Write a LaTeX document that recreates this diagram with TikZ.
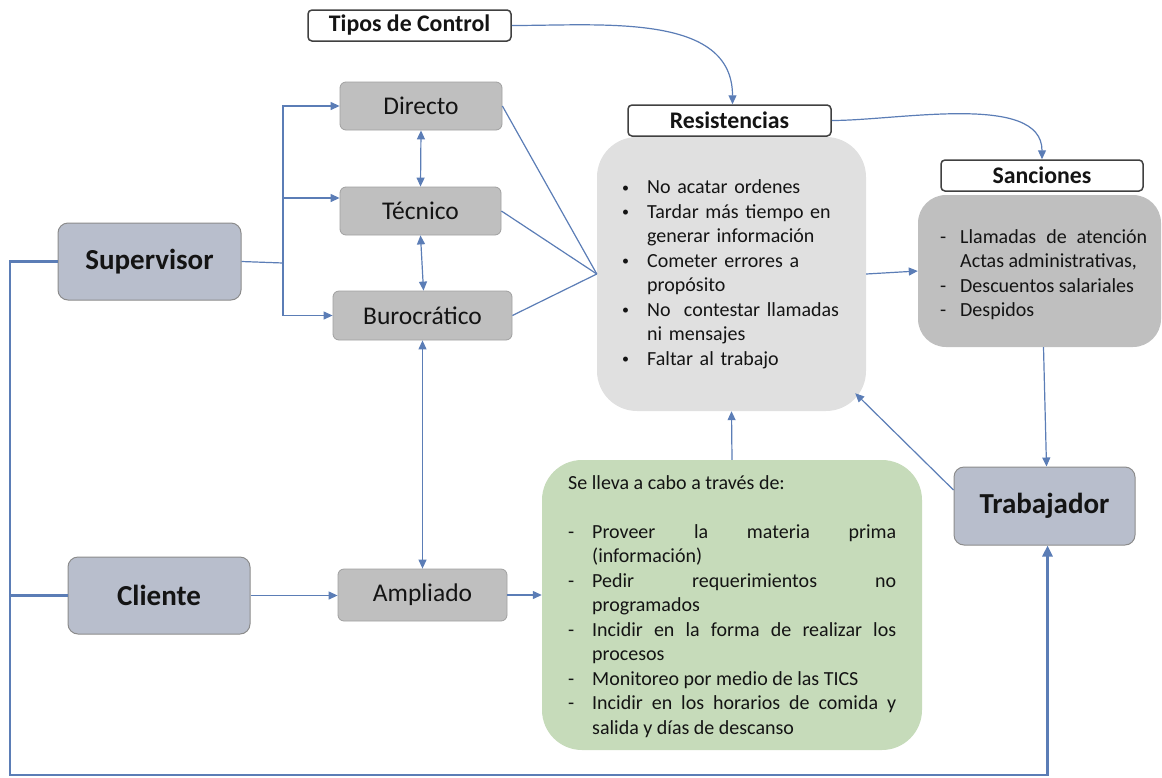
\documentclass[tikz,border=0pt]{standalone}
\usepackage{fontspec}
\setmainfont{Carlito}
\usetikzlibrary{arrows.meta,calc}

\definecolor{linec}{RGB}{91,125,182}
\definecolor{boxgray}{RGB}{191,191,191}
\definecolor{boxedge}{RGB}{160,160,160}
\definecolor{bluegray}{RGB}{184,190,204}
\definecolor{bluegrayedge}{RGB}{140,140,140}
\definecolor{lightgray}{RGB}{224,224,224}
\definecolor{greenfill}{RGB}{198,219,186}
\definecolor{lbledge}{RGB}{64,64,64}
\definecolor{textc}{RGB}{20,20,20}

% list helpers
\newcommand{\smallbullet}{\raisebox{1.5pt}{\fontsize{14pt}{14pt}\selectfont\textbullet}}
\newcommand{\bulletitem}[1]{\par\hangindent=27pt\hangafter=1\noindent\makebox[27pt][l]{\strut\hspace{2pt}\smallbullet}#1}
\newcommand{\dashitem}[2]{\par\hangindent=#1\hangafter=1\noindent\makebox[#1][l]{\strut-}#2}
\newcommand{\bodyfont}{\fontsize{20pt}{24.5pt}\selectfont}

\begin{document}
\begin{tikzpicture}[x=1pt,y=-1pt,
  lbl/.style={draw=lbledge, line width=1.5pt, fill=white, rounded corners=4pt,
    inner sep=0pt, font=\fontsize{23.8pt}{28pt}\selectfont\bfseries, text=textc},
  ctrl/.style={draw=boxedge, line width=0.8pt, fill=boxgray, rounded corners=6pt,
    inner sep=0pt, font=\fontsize{25.5pt}{30pt}\selectfont, text=textc},
  actor/.style={draw=bluegrayedge, line width=1pt, fill=bluegray, rounded corners=10pt,
    inner sep=0pt, font=\fontsize{29pt}{34pt}\selectfont\bfseries, text=textc},
  bigbox/.style={rounded corners=#1, inner sep=0pt},
  listtext/.style={anchor=north west, inner sep=0pt, font=\bodyfont, text=textc},
  conn/.style={draw=linec, line width=1.2pt},
  arr/.style={conn, -{Triangle[length=9pt,width=8pt]}},
  darr/.style={conn, {Triangle[length=9pt,width=8pt]}-{Triangle[length=9pt,width=8pt]}},
  thick line/.style={draw=linec, line width=2.6pt, line join=miter},
]
\useasboundingbox (0,0) rectangle (1162,777);

% large content boxes
\node[bigbox=40pt, fill=lightgray, minimum width=269pt, minimum height=274pt] (resbox) at (731.5,274) {};
\node[bigbox=28pt, fill=boxgray, minimum width=243pt, minimum height=152pt] (sancbox) at (1039.5,271) {};
\node[bigbox=40pt, fill=greenfill, minimum width=380pt, minimum height=290pt] (green) at (732,605) {};

% titled labels
\node[lbl, minimum width=203pt, minimum height=31pt] (tipos) at (409.5,25.5) {Tipos de Control};
\node[lbl, minimum width=203pt, minimum height=31pt] (resl) at (729.5,120.5) {Resistencias};
\node[lbl, minimum width=202pt, minimum height=31pt] (sancl) at (1042,175.5) {Sanciones};

% control types
\node[ctrl, minimum width=162pt, minimum height=48pt] (directo) at (421,106) {Directo};
\node[ctrl, minimum width=161pt, minimum height=48pt] (tecnico) at (420.5,211) {Técnico};
\node[ctrl, minimum width=179pt, minimum height=49pt] (buro) at (422.5,315.5) {Burocrático};
\node[ctrl, minimum width=169pt, minimum height=52pt] (ampliado) at (422.5,595) {Ampliado};

% actors
\node[actor, minimum width=183pt, minimum height=77pt] (sup) at (149.5,261.5) {Supervisor};
\node[actor, minimum width=182pt, minimum height=77pt] (cli) at (159,595.5) {Cliente};
\node[actor, minimum width=181pt, minimum height=78pt] (trab) at (1044.5,506) {Trabajador};

% list texts
\node[listtext, text width=240pt, align=left] (restext) at (620,169) {%
  \bulletitem{No acatar ordenes}
  \bulletitem{Tardar más tiempo en\newline generar información}
  \bulletitem{Cometer errores a\newline propósito}
  \bulletitem{No\ \ contestar llamadas\newline ni mensajes}
  \bulletitem{Faltar al trabajo}\par};

\node[listtext, text width=207pt, align=justify] (sanctext) at (940,218.5) {%
  \dashitem{20pt}{Llamadas de atención\linebreak Actas administrativas,}
  \dashitem{20pt}{Descuentos salariales}
  \dashitem{20pt}{Despidos}\par};

\node[listtext, text width=328pt, align=justify] (greentext) at (568,472) {%
  \noindent\strut Se lleva a cabo a través de:\par
  \noindent\strut\par
  \dashitem{24pt}{Proveer la materia prima\linebreak (información)}
  \dashitem{24pt}{Pedir requerimientos no\linebreak programados}
  \dashitem{24pt}{Incidir en la forma de realizar los\linebreak procesos}
  \dashitem{24pt}{Monitoreo por medio de las TICS}
  \dashitem{24pt}{Incidir en los horarios de comida y\linebreak salida y días de descanso}\par};

% supervisor fans out to the three control types
\coordinate (j) at (283,263);
\coordinate (ta) at ([yshift=13pt]tecnico.west);
\draw[conn] (sup.east) -- (j);
\draw[arr] (j) |- (directo.west);
\draw[arr] (j |- ta) -- (ta);
\draw[arr] (j) |- (buro.west);

% links between control types
\draw[darr] (directo.south) -- (tecnico.north);
\draw[darr] (tecnico.south) -- ([xshift=1pt]buro.north);
\draw[darr] (buro.south) -- (ampliado.north);

% control types converge on resistances
\draw[conn] (directo.east) -- (resbox.west);
\draw[conn] (tecnico.east) -- (resbox.west);
\draw[conn] (buro.east) -- (resbox.west);

% client side
\draw[arr] (cli.east) -- (cli.east -| ampliado.west);
\draw[arr] (ampliado.east) -- (ampliado.east -| green.west);
\draw[arr] (green.north) -- (resbox.south);

% top curves
\draw[arr] (tipos.east) to[out=0,in=90] ([xshift=3pt]resl.north);
\draw[arr] (resl.east) to[out=0,in=90,looseness=0.8] (sancl.north);

% resistances, sanctions, worker
\draw[arr] (resbox.east) -- (sancbox.west);
\draw[arr] ([xshift=4pt]sancbox.south) -- ([xshift=2pt]trab.north);
\coordinate (rc) at ([shift={(-11pt,18pt)}]resbox.south east);
\draw[arr] ([yshift=16pt]trab.west) -- (rc);

% outer feedback loop
\coordinate (bl) at (10,775);
\draw[thick line, -{Triangle[length=11pt,width=10pt]}] (sup.west) -| (bl) -| ([xshift=3pt]trab.south);
\draw[thick line] (cli.west) -- (cli.west -| bl);
\end{tikzpicture}
\end{document}
